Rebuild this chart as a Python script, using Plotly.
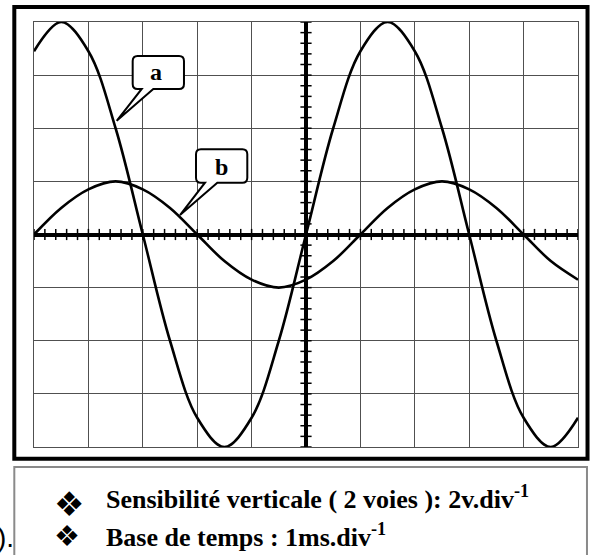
import plotly.graph_objects as go

# time in ms (base de temps 1 ms/div), voltage in V (2 V/div)
t_ms = [-5, -4.5, -4, -3.5, -3, -2.5, -2, -1.5, -1, -0.5, 0,
        0.5, 1, 1.5, 2, 2.5, 3, 3.5, 4, 4.5, 5]
u_a = [6.9, 8.0, 6.9, 4.0, 0.0, -4.0, -6.9, -8.0, -6.9, -4.0, 0.0,
       4.0, 6.9, 8.0, 6.9, 4.0, 0.0, -4.0, -6.9, -8.0, -6.9]
u_b = [0.0, 1.0, 1.7, 2.0, 1.7, 1.0, 0.0, -1.0, -1.7, -2.0, -1.7,
       -1.0, 0.0, 1.0, 1.7, 2.0, 1.7, 1.0, 0.0, -1.0, -1.7]

curve_labels = ["a", "b"]
info_lines = ["Sensibilité verticale ( 2 voies ): 2v.div<sup>-1</sup>",
              "Base de temps : 1ms.div<sup>-1</sup>"]

# graticule small ticks on the central axes (5 per division)
tick_x = [i * 0.2 for i in range(-25, 26)]
tick_y = [i * 0.4 for i in range(-20, 21)]

SERIF = "Liberation Serif, Times New Roman, serif"

fig = go.Figure()

fig.add_trace(go.Scatter(x=tick_x, y=[0] * len(tick_x), mode="markers",
                         marker=dict(symbol="line-ns", size=8,
                                     line=dict(color="black", width=1.5)),
                         hoverinfo="skip"))
fig.add_trace(go.Scatter(x=[0] * len(tick_y), y=tick_y, mode="markers",
                         marker=dict(symbol="line-ew", size=8,
                                     line=dict(color="black", width=1.5)),
                         hoverinfo="skip"))

for name, u in zip(curve_labels, [u_a, u_b]):
    fig.add_trace(go.Scatter(x=t_ms, y=u, mode="lines", name=name,
                             line=dict(color="black", width=2.6,
                                       shape="spline", smoothing=1)))


def callout(x0, x1, y0, y1, b0, b1, tip, rx=0.09, ry=0.19):
    # rounded box with a pointed tail leaving its bottom edge
    tx, ty = tip
    return (f"M {x0 + rx},{y1} L {x1 - rx},{y1} Q {x1},{y1} {x1},{y1 - ry} "
            f"L {x1},{y0 + ry} Q {x1},{y0} {x1 - rx},{y0} "
            f"L {b1},{y0} L {tx},{ty} L {b0},{y0} "
            f"L {x0 + rx},{y0} Q {x0},{y0} {x0},{y0 + ry} "
            f"L {x0},{y1 - ry} Q {x0},{y1} {x0 + rx},{y1} Z")


boxes = [
    dict(box=(-3.186, -2.243, 5.48, 6.72), base=(-3.02, -2.807), tip=(-3.48, 4.28),
         text=(-2.757, 6.10)),
    dict(box=(-2.022, -1.079, 1.95, 3.21), base=(-1.857, -1.630), tip=(-2.316, 0.73),
         text=(-1.55, 2.54)),
]
for lab, b in zip(curve_labels, boxes):
    x0, x1, y0, y1 = b["box"]
    fig.add_shape(type="path", path=callout(x0, x1, y0, y1, *b["base"], b["tip"]),
                  xref="x", yref="y", fillcolor="white",
                  line=dict(color="black", width=2), layer="above")
    fig.add_annotation(x=b["text"][0], y=b["text"][1], text=f"<b>{lab}</b>",
                       showarrow=False, xref="x", yref="y",
                       font=dict(family=SERIF, size=24, color="black"))

# outer thick frame around the screen
fig.add_shape(type="rect", xref="paper", yref="paper",
              x0=-0.0362, x1=1.0175, y0=-0.0275, y1=1.0353,
              line=dict(color="black", width=4), layer="above")
# caption box (runs off the bottom of the page)
fig.add_shape(type="rect", xref="paper", yref="paper",
              x0=-0.0362, x1=1.0165, y0=-0.33, y1=-0.047,
              line=dict(color="#8a8a8a", width=2), layer="above")

bullet_y = [-0.186, -0.254]
bullet_size = [34, 29]
text_y = [-0.163, -0.252]
for i, line in enumerate(info_lines):
    fig.add_annotation(x=0.064 - 0.004 * i, y=bullet_y[i], xref="paper", yref="paper",
                       text="\u2756", showarrow=False, xanchor="center",
                       font=dict(family="DejaVu Sans", size=bullet_size[i], color="black"))
    fig.add_annotation(x=0.1287, y=text_y[i], xref="paper", yref="paper",
                       text=f"<b>{line}</b>", showarrow=False, xanchor="left",
                       font=dict(family=SERIF, size=26, color="black"))

fig.add_annotation(x=-0.034, y=-0.254, xref="paper", yref="paper",
                   text=").", showarrow=False, xanchor="right",
                   font=dict(family="Liberation Sans, Arial", size=28, color="black"))

# figure is a bit taller than the window so the caption box is cut by the page edge
fig.update_layout(
    width=595, height=600,
    margin=dict(l=34, r=17, t=22, b=153),
    paper_bgcolor="white", plot_bgcolor="white",
    showlegend=False,
)
fig.update_xaxes(range=[-5, 5], dtick=1, tick0=0, showticklabels=False,
                 showgrid=True, gridcolor="#505050", gridwidth=1,
                 zeroline=True, zerolinecolor="black", zerolinewidth=3.5,
                 showline=True, mirror=True, linecolor="#505050", linewidth=1,
                 ticks="")
fig.update_yaxes(range=[-8, 8], dtick=2, tick0=0, showticklabels=False,
                 showgrid=True, gridcolor="#505050", gridwidth=1,
                 zeroline=True, zerolinecolor="black", zerolinewidth=3.5,
                 showline=True, mirror=True, linecolor="#505050", linewidth=1,
                 ticks="")

# drop the default page margin and scrollbars so the figure sits at the corner
fig.write_html("out.html", config={"displayModeBar": False},
               post_script="document.body.style.margin = '0';"
                           "document.body.style.overflow = 'hidden';")
